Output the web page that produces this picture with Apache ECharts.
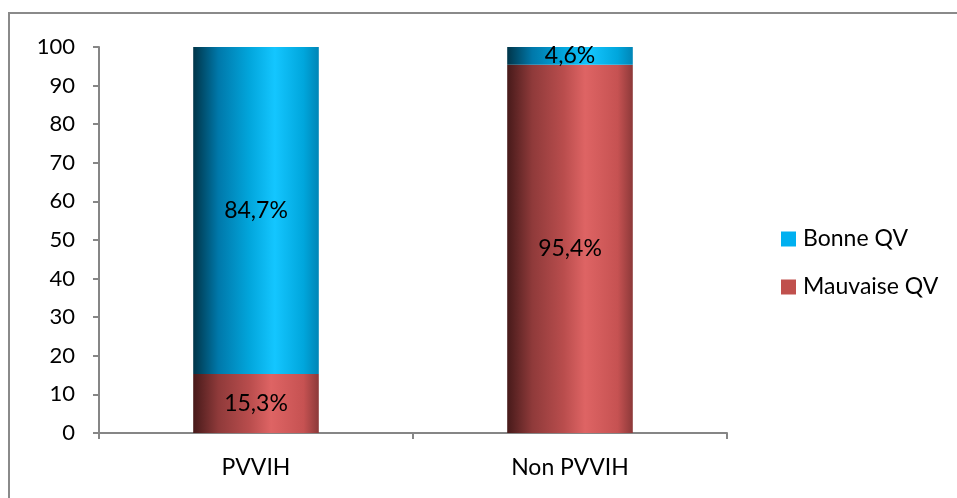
<!DOCTYPE html>
<html>
<head>
<meta charset="utf-8">
<script src="https://cdn.jsdelivr.net/npm/echarts@6/dist/echarts.min.js"></script>
<style>
  html, body { margin: 0; padding: 0; background: #fff; }
  #chart { width: 957px; height: 498px; }
</style>
</head>
<body>
<div id="chart"></div>
<script>
var categories = ['PVVIH', 'Non PVVIH'];
var mauvaise = [15.3, 95.4];
var bonne = [84.7, 4.6];
var yTicks = [0, 10, 20, 30, 40, 50, 60, 70, 80, 90, 100];

var chart = echarts.init(document.getElementById('chart'));

function grad(stops) {
  return new echarts.graphic.LinearGradient(0, 0, 1, 0, stops);
}

var blueGrad = grad([
  { offset: 0, color: '#003549' },
  { offset: 0.2, color: '#0078aa' },
  { offset: 0.45, color: '#02a6dc' },
  { offset: 0.65, color: '#14c6ff' },
  { offset: 0.88, color: '#00a6dc' },
  { offset: 1, color: '#0085b6' }
]);
var redGrad = grad([
  { offset: 0, color: '#471a1a' },
  { offset: 0.2, color: '#8f3a3a' },
  { offset: 0.45, color: '#b94d4d' },
  { offset: 0.62, color: '#de6464' },
  { offset: 0.88, color: '#c65252' },
  { offset: 1, color: '#8c3939' }
]);

function fmt(p) {
  return String(p.value).replace('.', ',') + '%';
}

var font = 'Lato, "Open Sans", sans-serif';

var option = {
  animation: false,
  textStyle: { fontFamily: font },
  graphic: [{
    type: 'rect',
    shape: { x: 9, y: 13, width: 960, height: 500 },
    style: { fill: 'none', stroke: '#8a8a8a', lineWidth: 2 },
    silent: true
  }],
  grid: { left: 99, right: 230, top: 47, bottom: 65 },
  legend: {
    orient: 'vertical',
    left: 776,
    top: 222,
    itemWidth: 15,
    itemHeight: 15,
    itemGap: 24,
    icon: 'rect',
    data: [
      { name: 'Bonne QV', itemStyle: { color: '#00b0f0' } },
      { name: 'Mauvaise QV', itemStyle: { color: '#c0504d' } }
    ],
    textStyle: { fontSize: 23, lineHeight: 24, color: '#000', fontFamily: font, padding: [0, 0, 0, 2] }
  },
  xAxis: {
    type: 'category',
    data: categories,
    axisLine: { lineStyle: { color: '#868686', width: 2 } },
    axisTick: { show: true, alignWithLabel: false, length: 6, lineStyle: { color: '#868686', width: 2 } },
    axisLabel: { fontSize: 23, color: '#000', margin: 23, fontFamily: font }
  },
  yAxis: {
    type: 'value',
    min: yTicks[0],
    max: yTicks[yTicks.length - 1],
    interval: 10,
    splitLine: { show: false },
    axisLine: { show: true, lineStyle: { color: '#868686', width: 2 } },
    axisTick: { show: true, length: 6, lineStyle: { color: '#868686', width: 2 } },
    axisLabel: { fontSize: 22, color: '#000', margin: 24, fontFamily: font }
  },
  series: [
    {
      name: 'Mauvaise QV',
      type: 'bar',
      stack: 'qv',
      barWidth: '40%',
      data: mauvaise,
      itemStyle: { color: redGrad },
      label: { show: true, position: 'inside', formatter: fmt, fontSize: 23, color: '#000', fontFamily: font }
    },
    {
      name: 'Bonne QV',
      type: 'bar',
      stack: 'qv',
      barWidth: '40%',
      data: bonne,
      itemStyle: { color: blueGrad },
      label: { show: true, position: 'inside', formatter: fmt, fontSize: 23, color: '#000', fontFamily: font }
    }
  ]
};

chart.setOption(option);
</script>
</body>
</html>
